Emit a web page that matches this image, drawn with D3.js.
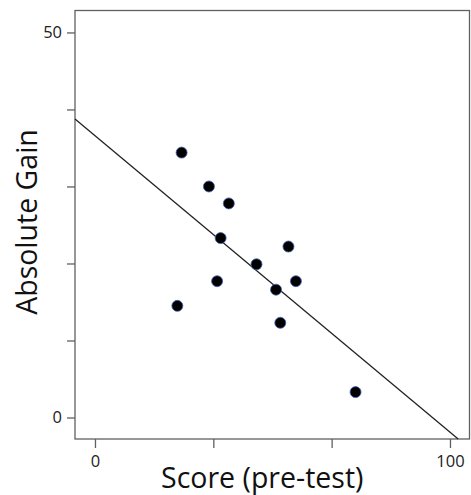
<!DOCTYPE html>
<html>
<head>
<meta charset="utf-8">
<script src="https://cdn.jsdelivr.net/npm/d3@7"></script>
<style>
  body { margin: 0; background: #fff; }
  text { font-family: "Open Sans", "Noto Sans", sans-serif; }
</style>
</head>
<body>
<div id="chart"></div>
<script>
let width = 471,
height = 495;

// pre-test score and absolute gain
const scoreX = [24.4, 32.1, 37.7, 35.4, 54.5, 45.5, 34.4, 56.6, 51.0, 23.2, 52.2, 73.4];
const gainY  = [34.4, 30.0, 27.8, 23.3, 22.2, 19.9, 17.7, 17.7, 16.6, 14.5, 12.3, 3.3];

const xTicks = [0, 100/3, 200/3, 100];
const xTickLabels = ["0", "", "", "100"];
const yTicks = [0, 10, 20, 30, 40, 50];
const yTickLabels = ["0", "", "", "", "", "50"];

// fitted line
const intercept = 36.6;
const slope = -0.385;

let plotLeft = 75, plotRight = 469.5, plotTop = 10.5, plotBottom = 439;

let svg = d3.select("#chart")
.append("svg")
.attr("width", width)
.attr("height", height);

let x = d3.scaleLinear().domain([-5.63, 105.5]).range([plotLeft, plotRight]);
let y = d3.scaleLinear().domain([-2.79, 52.85]).range([plotBottom, plotTop]);

// frame
svg.append("rect")
.attr("x", plotLeft).attr("y", plotTop)
.attr("width", plotRight - plotLeft).attr("height", plotBottom - plotTop)
.attr("fill", "none")
.attr("stroke", "#606060")
.attr("stroke-width", 1.3);

// axes
let xAxis = svg.append("g")
.attr("transform", `translate(0,${plotBottom})`)
.call(d3.axisBottom(x).tickValues(xTicks).tickSize(9).tickPadding(7)
  .tickFormat((d, i) => xTickLabels[i]));

let yAxis = svg.append("g")
.attr("transform", `translate(${plotLeft},0)`)
.call(d3.axisLeft(y).tickValues(yTicks).tickSize(8).tickPadding(5)
  .tickFormat((d, i) => yTickLabels[i]));

[xAxis, yAxis].forEach(a => {
  a.select(".domain").remove();
  a.selectAll("line").attr("stroke", "#606060").attr("stroke-width", 1.3);
  a.selectAll("text")
  .style("font-size", "16.5px")
  .style("font-family", "\"Open Sans\", sans-serif")
  .attr("fill", "#222");
});

// regression line
let x0 = x.domain()[0];
let x1 = (y.domain()[0] - intercept) / slope;
svg.append("line")
.attr("x1", x(x0)).attr("y1", y(intercept + slope * x0))
.attr("x2", x(x1)).attr("y2", y(intercept + slope * x1))
.attr("stroke", "#222")
.attr("stroke-width", 1.3);

// points
let data = scoreX.map((s, i) => ({score: s, gain: gainY[i]}));
svg.append("g")
.selectAll("circle")
.data(data)
.join("circle")
.attr("cx", d => x(d.score))
.attr("cy", d => y(d.gain))
.attr("r", 5.5)
.attr("fill", "black")
.attr("stroke", "#4060b0")
.attr("stroke-width", 0.8);

// axis titles
svg.append("text")
.attr("x", (plotLeft + plotRight) / 2 - 10)
.attr("y", 488)
.attr("text-anchor", "middle")
.style("font-size", "28.5px")
.attr("fill", "#111")
.text("Score (pre-test)");

svg.append("text")
.attr("transform", "translate(37,222) rotate(-90)")
.attr("text-anchor", "middle")
.style("font-size", "28.5px")
.attr("fill", "#111")
.text("Absolute Gain");
</script>
</body>
</html>
